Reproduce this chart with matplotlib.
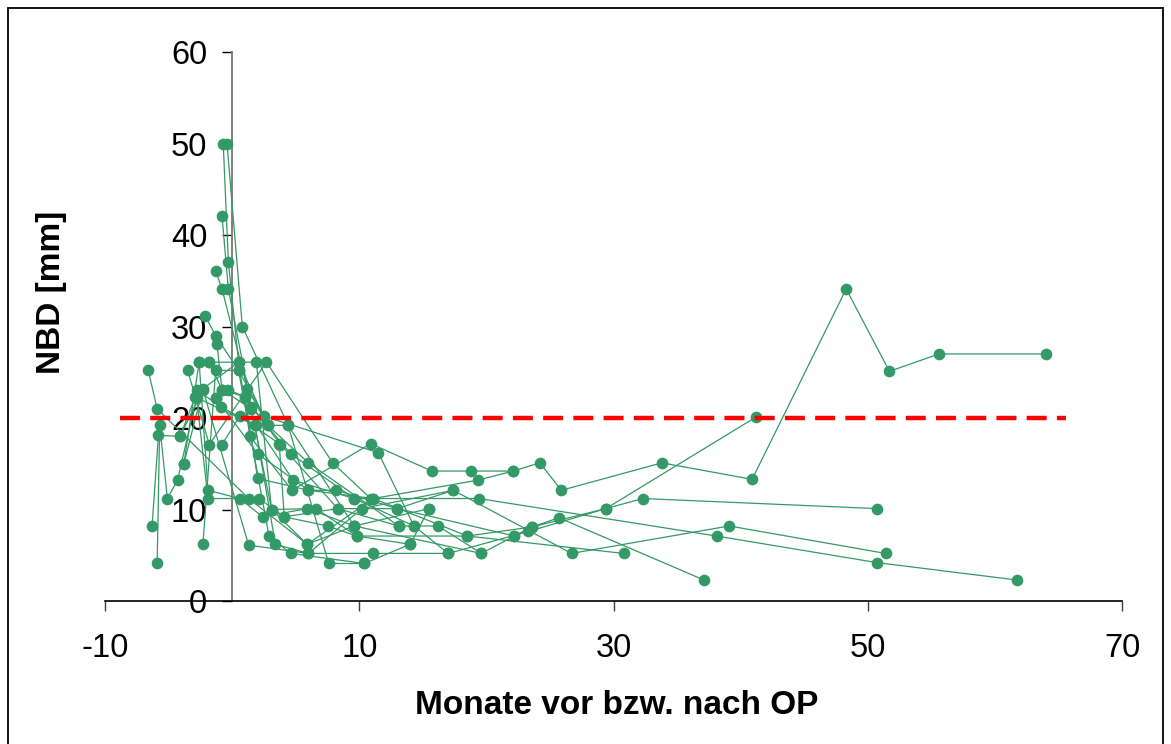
"""NBD course before and after surgery, one line per patient."""

import matplotlib.pyplot as plt
from matplotlib.patches import Rectangle

plt.rcParams["font.family"] = ["Liberation Sans", "DejaVu Sans"]
plt.rcParams["axes.unicode_minus"] = False

# months relative to surgery (negative = before OP) and NBD in mm, per patient
pt01_months = [-1.3, 2.0, 6.0, 11.1, 19.3, 22.1, 24.2, 25.9, 33.8, 40.9, 48.3, 51.7, 55.6, 64.0]
pt01_nbd = [22.2, 16.1, 12.1, 11.2, 13.2, 14.2, 15.1, 12.1, 15.1, 13.3, 34.1, 25.1, 27.0, 27.0]

pt02_months = [-0.4, 0.8, 4.4, 7.6, 10.4, 14.0, 15.5]
pt02_nbd = [49.9, 30.0, 19.2, 4.1, 4.1, 6.2, 10.1]

pt03_months = [-0.7, -0.3, 0.5, 1.4, 4.7, 10.9, 15.7, 18.8, 22.1]
pt03_nbd = [49.9, 37.1, 26.1, 18.0, 12.1, 17.2, 14.2, 14.2, 14.2]

pt04_months = [-0.8, -0.3, 1.5, 4.6, 9.6, 19.4, 38.1, 50.7, 61.7]
pt04_nbd = [42.1, 34.1, 21.2, 16.1, 11.2, 11.2, 7.1, 4.2, 2.3]

pt05_months = [-1.3, -0.8, 1.2, 2.8, 6.0, 13.1, 16.2, 19.6, 22.2, 23.6, 25.7, 37.1]
pt05_nbd = [36.1, 34.1, 23.2, 19.2, 15.1, 8.2, 8.2, 5.2, 7.1, 8.1, 9.1, 2.3]

pt06_months = [-2.1, -1.3, 0.5, 2.5, 11.5, 14.3, 17.0, 23.3, 29.4, 41.2]
pt06_nbd = [31.1, 29.0, 25.2, 20.2, 16.2, 8.2, 5.2, 7.6, 10.1, 20.1]

pt07_months = [-1.2, -0.8, 1.0, 3.8, 8.3, 13.0, 17.4, 26.7, 39.1, 51.4]
pt07_nbd = [28.1, 23.1, 22.3, 17.1, 10.1, 10.1, 12.1, 5.2, 8.2, 5.2]

pt08_months = [-2.6, -1.8, 1.9, 3.1, 6.6, 9.8, 18.5, 30.8]
pt08_nbd = [26.1, 26.1, 26.1, 10.0, 10.1, 7.1, 7.1, 5.2]

pt09_months = [-3.5, -1.8, 2.7, 7.9, 10.9]
pt09_nbd = [25.2, 17.1, 26.1, 15.1, 11.2]

pt10_months = [-6.6, -5.9, 1.3, 5.9, 9.6]
pt10_nbd = [25.2, 21.0, 11.2, 6.2, 8.2]

pt11_months = [-6.3, -5.8, -4.1, -2.3, 1.3, 6.0, 11.1, 17.0]
pt11_nbd = [8.2, 18.1, 18.0, 23.1, 6.1, 5.2, 5.2, 5.2]

pt12_months = [-5.9, -5.7, -5.1, -4.3, -2.8, -1.9, 2.1, 4.1, 8.3, 13.1]
pt12_nbd = [4.1, 19.2, 11.2, 13.2, 22.2, 11.2, 11.2, 9.2, 10.1, 8.2]

pt13_months = [-3.8, -2.6, -1.9, 0.6, 2.4, 5.9, 9.6, 19.6]
pt13_nbd = [15.0, 26.1, 12.1, 11.2, 9.2, 10.1, 8.2, 5.2]

pt14_months = [-2.3, -1.3, 0.5, 2.9, 4.6, 10.4]
pt14_nbd = [6.2, 25.2, 25.2, 7.1, 5.2, 4.1]

pt15_months = [-2.8, -0.9, 1.9, 4.8, 9.6, 14.3]
pt15_nbd = [23.1, 21.2, 19.2, 13.2, 11.2, 8.2]

pt16_months = [-1.3, -0.3, 1.0, 2.0, 6.0, 8.2, 13.0, 22.2]
pt16_nbd = [22.2, 23.1, 22.3, 13.4, 12.1, 12.1, 10.1, 7.1]

pt17_months = [-0.8, 0.6, 3.7, 4.1, 7.5, 9.8, 14.0]
pt17_nbd = [17.1, 20.2, 17.2, 9.2, 8.2, 7.1, 6.2]

pt18_months = [-1.8, -0.8, 1.5, 3.1, 5.9, 11.1, 18.5, 23.6, 29.4, 32.3, 50.7]
pt18_nbd = [26.1, 23.1, 21.0, 10.0, 6.2, 11.2, 7.1, 8.1, 10.1, 11.2, 10.1]

pt19_months = [-4.1, -2.9, 1.8, 3.4, 6.0, 10.2, 17.4]
pt19_nbd = [18.0, 22.3, 19.2, 6.2, 5.2, 10.1, 12.1]

pt20_months = [-3.8, -2.3, 0.5, 2.8, 4.4, 9.6, 15.5]
pt20_nbd = [15.0, 23.2, 26.1, 19.2, 19.2, 8.2, 10.1]

patients = [
    (pt01_months, pt01_nbd), (pt02_months, pt02_nbd), (pt03_months, pt03_nbd),
    (pt04_months, pt04_nbd), (pt05_months, pt05_nbd), (pt06_months, pt06_nbd),
    (pt07_months, pt07_nbd), (pt08_months, pt08_nbd), (pt09_months, pt09_nbd),
    (pt10_months, pt10_nbd), (pt11_months, pt11_nbd), (pt12_months, pt12_nbd),
    (pt13_months, pt13_nbd), (pt14_months, pt14_nbd), (pt15_months, pt15_nbd),
    (pt16_months, pt16_nbd), (pt17_months, pt17_nbd), (pt18_months, pt18_nbd),
    (pt19_months, pt19_nbd), (pt20_months, pt20_nbd),
]

# normal limit for NBD and the span the reference line covers
nbd_limit = 20
limit_span = (-8.8, 65.6)

x_ticks = [-10, 10, 30, 50, 70]
y_ticks = [0, 10, 20, 30, 40, 50, 60]

green = "#339966"

fig = plt.figure(figsize=(11.71, 7.44), dpi=100)
ax = fig.add_axes([0.0897, 0.1922, 0.8685, 0.7379])

for months, nbd in patients:
    ax.plot(months, nbd, color=green, lw=0.9, marker="o", ms=8.4,
            markeredgewidth=0, clip_on=False, zorder=3)

ax.hlines(nbd_limit, *limit_span, colors="#ff0000", lw=3.2,
          linestyles=(0, (4.5, 2.3)), zorder=4)

ax.set_xlim(-10, 70)
ax.set_ylim(0, 60)
ax.set_xticks(x_ticks)
ax.set_yticks(y_ticks)

ax.spines["top"].set_visible(False)
ax.spines["right"].set_visible(False)
ax.spines["left"].set_position(("data", 0))
ax.spines["left"].set_color("#808080")
ax.spines["left"].set_linewidth(1.4)
ax.spines["bottom"].set_color("black")
ax.spines["bottom"].set_linewidth(1.2)

ax.tick_params(axis="x", direction="out", length=7, width=1, pad=16,
               labelsize=23.5, color="#404040")
ax.tick_params(axis="y", direction="out", length=7, width=1, pad=11,
               labelsize=23.5, color="black")

fig.text(0.527, 0.052, "Monate vor bzw. nach OP", ha="center", va="center",
         fontsize=24, fontweight="bold")
fig.text(0.0436, 0.6075, "NBD [mm]", ha="center", va="center", rotation=90,
         fontsize=24, fontweight="bold")

# thin frame around the whole chart area
fig.patches.append(Rectangle((8 / 1171, -0.05), 1155 / 1171, 1.05 - 8 / 744,
                             transform=fig.transFigure, fill=False,
                             edgecolor="black", lw=1.3))

fig.savefig("out.png", dpi=100)
